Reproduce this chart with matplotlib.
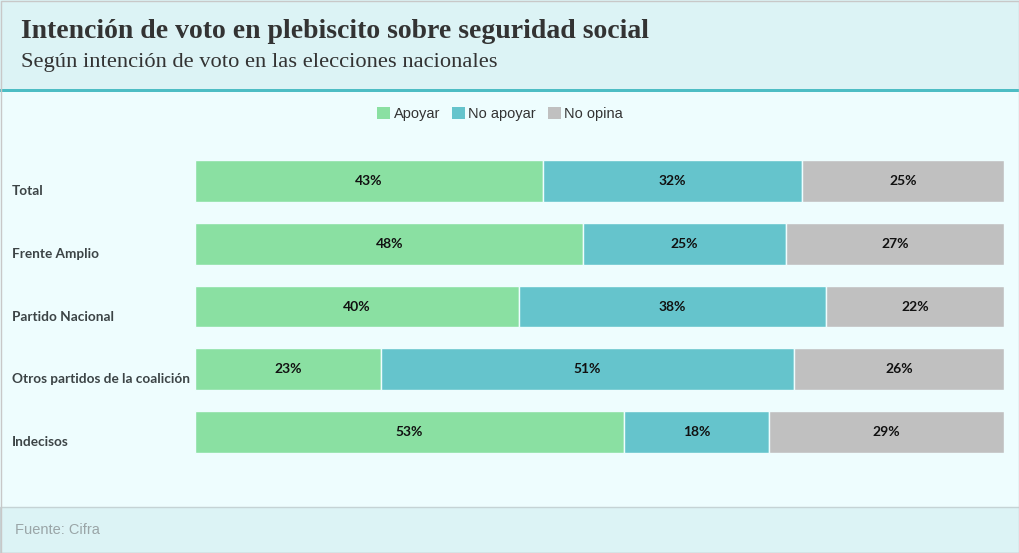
import matplotlib.pyplot as plt
import matplotlib.patches as mpatches
import matplotlib.transforms as mtransforms
import numpy as np

# Datos
categorias = ['Total', 'Frente Amplio', 'Partido Nacional',
              'Otros partidos de la coalición', 'Indecisos']
apoyar = [43, 48, 40, 23, 53]
no_apoyar = [32, 25, 38, 51, 18]
no_opina = [25, 27, 22, 26, 29]
series = ['Apoyar', 'No apoyar', 'No opina']
colores = ['#8ae0a2', '#65c4cc', '#c0c0c0']

W, H = 1020, 553
fig = plt.figure(figsize=(W / 100, H / 100), dpi=100)
fig.patch.set_facecolor('#eefdfe')

# Cabecera, pie y borde
fig.patches.append(mpatches.Rectangle((0, 1 - 89 / H), 1, 89 / H, transform=fig.transFigure,
                                      facecolor='#dcf3f5', edgecolor='none', zorder=0))
fig.patches.append(mpatches.Rectangle((0, 1 - 92 / H), 1, 3 / H, transform=fig.transFigure,
                                      facecolor='#4dbdc4', edgecolor='none', zorder=1))
fig.patches.append(mpatches.Rectangle((0, 0), 1, 46 / H, transform=fig.transFigure,
                                      facecolor='#dcf3f5', edgecolor='#c5d3d5', linewidth=1, zorder=0))
fig.patches.append(mpatches.Rectangle((0.5 / W, 0.5 / H), 1 - 1 / W, 1 - 1 / H, transform=fig.transFigure,
                                      facecolor='none', edgecolor='#c8c8c8', linewidth=1, zorder=2))

fig.text(21 / W, 1 - 31 / H, 'Intención de voto en plebiscito sobre seguridad social',
         fontsize=20, fontweight='bold', family='Liberation Serif', color='#333333', va='center')
fig.text(21 / W, 1 - 63 / H, 'Según intención de voto en las elecciones nacionales',
         fontsize=16.2, family='Liberation Serif', color='#333333', va='center')
fig.text(15 / W, 23 / H, 'Fuente: Cifra', fontsize=10.5, family='Liberation Sans',
         color='#9aa5a7', va='center')

# Ejes de barras
ax = fig.add_axes([195 / W, 1 - 463 / H, (1004 - 195) / W, 313 / H])
ax.set_facecolor('none')
y = np.arange(len(categorias))
izq = np.zeros(len(categorias))
for nombre, vals, col in zip(series, [apoyar, no_apoyar, no_opina], colores):
    vals = np.array(vals)
    ax.barh(y, vals, left=izq, height=0.67, color=col, edgecolor='#eefdfe',
            linewidth=1, label=nombre)
    for yi, l, v in zip(y, izq, vals):
        ax.text(l + v / 2, yi, f'{v}%', ha='center', va='center', fontsize=10,
                fontweight='bold', family='Lato', color='#111111')
    izq = izq + vals

ax.set_xlim(0, 100)
ax.set_ylim(len(categorias) - 0.5, -0.5)
ax.axis('off')

# Etiquetas de categorías
trans = mtransforms.blended_transform_factory(fig.transFigure, ax.transData)
trans = trans + mtransforms.ScaledTranslation(0, -10 / 100, fig.dpi_scale_trans)
for yi, c in zip(y, categorias):
    ax.text(12 / W, yi, c, transform=trans, ha='left', va='center', fontsize=9.8,
            fontweight='bold', family='Lato', color='#3c4446')

# Leyenda
handles = [mpatches.Patch(facecolor=c, edgecolor='none', label=s) for s, c in zip(series, colores)]
fig.legend(handles=handles, loc='center', bbox_to_anchor=(500 / W, 1 - 114 / H), ncol=3,
           frameon=False, handlelength=0.9, handleheight=0.9, handletextpad=0.25,
           columnspacing=0.8, prop={'family': 'Liberation Sans', 'size': 10.5},
           labelcolor='#333333')

fig.savefig('out.png', dpi=100, facecolor=fig.get_facecolor())
